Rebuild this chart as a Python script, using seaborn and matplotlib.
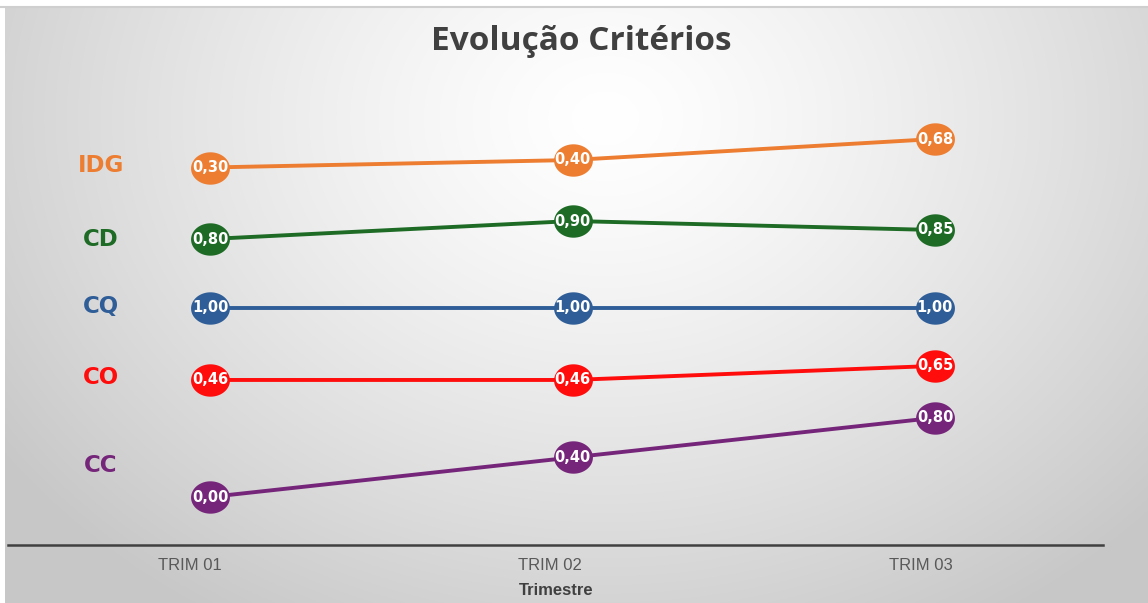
import numpy as np
import pandas as pd
import matplotlib
matplotlib.use("Agg")
import matplotlib.pyplot as plt
from matplotlib.path import Path
import seaborn as sns

# ---------------- data ----------------
quarters = ["TRIM 01", "TRIM 02", "TRIM 03"]
series_names = ["IDG", "CD", "CQ", "CO", "CC"]
idg = [0.30, 0.40, 0.68]
cd = [0.80, 0.90, 0.85]
cq = [1.00, 1.00, 1.00]
co = [0.46, 0.46, 0.65]
cc = [0.00, 0.40, 0.80]
values = {"IDG": idg, "CD": cd, "CQ": cq, "CO": co, "CC": cc}

# ---------------- styling / layout ----------------
colors = {"IDG": "#ED7D31", "CD": "#1D6B25", "CQ": "#2E5D97",
          "CO": "#FF0D0D", "CC": "#76267A"}
# each series is drawn in its own band: (offset, scale) in pixel-like units
band = {"IDG": (355, 75), "CD": (162, 180), "CQ": (157, 80),
        "CO": (131, 74), "CC": (48, 99)}
label_y = {"IDG": 380, "CD": 306, "CQ": 239, "CO": 168, "CC": 79}

sns.set_theme(style="white")
plt.rcParams["font.family"] = ["DejaVu Sans"]

W, H = 1148, 603
fig = plt.figure(figsize=(W / 100, H / 100), dpi=100, facecolor="white")

# background gradient
bg = fig.add_axes([5 / W, 0, 1 - 5 / W, (H - 8) / H])
xx, yy = np.meshgrid(np.arange(W - 5), np.arange(H - 8))
r = np.sqrt(((xx - 600) / 700.0) ** 2 + ((yy - 110) / 560.0) ** 2)
v = 255 - 52 * np.clip(r, 0, 1.05) ** 1.3
v = np.clip(v, 0, 255) / 255.0
bg.imshow(np.dstack([v, v, v]), aspect="auto", interpolation="bilinear")
bg.set_axis_off()
fig.add_artist(plt.Line2D([0, 1], [(H - 7) / H] * 2, color="#cfcfcf", lw=1.5,
                          transform=fig.transFigure))

# main axes
x0, x1 = 8, 1103
ax = fig.add_axes([x0 / W, (H - 545) / H, (x1 - x0) / W, 445 / H])
ax.patch.set_alpha(0)
px_per = 362.5
ax.set_xlim((x0 - 210) / px_per, (x1 - 210) / px_per)
ax.set_ylim(0, 445)

rows = []
for s in series_names:
    off, sc = band[s]
    for i, q in enumerate(quarters):
        rows.append({"serie": s, "pos": i, "trimestre": q, "valor": values[s][i],
                     "ypos": off + sc * values[s][i]})
df = pd.DataFrame(rows)

theta = np.linspace(0, 2 * np.pi, 60)
ell = Path(np.column_stack([1.2 * np.cos(theta), np.sin(theta)]), closed=True)

sns.lineplot(data=df, x="pos", y="ypos", hue="serie", palette=colors,
             hue_order=series_names, linewidth=2.8, marker=ell, markersize=28,
             markeredgewidth=0, legend=False, ax=ax, sort=False)

for _, rw in df.iterrows():
    ax.text(rw["pos"], rw["ypos"], f"{rw['valor']:.2f}".replace(".", ","),
            ha="center", va="center", color="white", fontsize=10.5,
            fontweight="bold", zorder=5)

for s in series_names:
    ax.text((101 - 210) / px_per, label_y[s], s, color=colors[s], fontsize=16.5,
            fontweight="heavy", ha="center", va="center")

tick_shift = [-20, -23, -14]
ax.set_xticks([i + tick_shift[i] / px_per for i in range(len(quarters))])
ax.set_xticklabels(quarters, color="#595959", fontsize=12,
                   family=["Liberation Sans", "DejaVu Sans"])
ax.tick_params(axis="x", length=0, pad=9)
ax.set_yticks([])
ax.set_xlabel("Trimestre", color="#404040", fontsize=12, fontweight="bold",
              family=["Liberation Sans", "DejaVu Sans"])
ax.xaxis.set_label_coords((556 - x0) / (x1 - x0), -0.085)
ax.set_ylabel("")
for sp in ["top", "right", "left"]:
    ax.spines[sp].set_visible(False)
ax.spines["bottom"].set_color("#404040")
ax.spines["bottom"].set_linewidth(1.8)
ax.grid(False)

fig.text(581 / W, 1 - 42 / H, "Evolução Critérios", ha="center", va="center",
         fontsize=24, fontweight="bold", color="#404040",
         family=["Open Sans", "DejaVu Sans"])

fig.savefig("out.png", dpi=100, facecolor="white")
